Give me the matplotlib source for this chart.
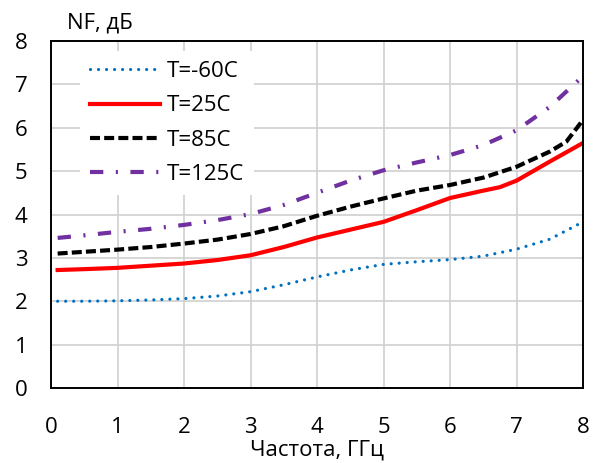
import matplotlib
matplotlib.use("Agg")
import matplotlib.pyplot as plt
import numpy as np

plt.rcParams['font.family'] = ['Open Sans', 'DejaVu Sans']

x_m60 = [0.1, 0.5, 1, 1.5, 2, 2.5, 3, 3.5, 4, 4.5, 5, 5.5, 6, 6.5, 7, 7.5, 8]
y_m60 = [2.0, 2.0, 2.01, 2.03, 2.06, 2.12, 2.22, 2.38, 2.56, 2.72, 2.85, 2.91, 2.96, 3.04, 3.2, 3.43, 3.83]

x_25 = [0.1, 0.5, 1, 1.5, 2, 2.5, 3, 3.5, 4, 4.5, 5, 5.5, 6, 6.5, 6.75, 7, 7.5, 8]
y_25 = [2.72, 2.74, 2.77, 2.82, 2.87, 2.95, 3.06, 3.25, 3.47, 3.65, 3.83, 4.1, 4.38, 4.55, 4.63, 4.78, 5.22, 5.65]

x_85 = [0.1, 0.5, 1, 1.5, 2, 2.5, 3, 3.5, 4, 4.5, 5, 5.5, 6, 6.5, 7, 7.5, 7.75, 8]
y_85 = [3.1, 3.14, 3.19, 3.25, 3.33, 3.42, 3.55, 3.73, 3.97, 4.18, 4.37, 4.55, 4.68, 4.85, 5.1, 5.45, 5.68, 6.18]

x_125 = [0.1, 0.5, 1, 1.5, 2, 2.5, 3, 3.5, 4, 4.5, 5, 5.5, 6, 6.5, 7, 7.5, 8]
y_125 = [3.46, 3.52, 3.6, 3.67, 3.76, 3.87, 4.01, 4.22, 4.5, 4.78, 5.02, 5.2, 5.37, 5.6, 5.94, 6.48, 7.19]

labels = ['T=-60C', 'T=25C', 'T=85C', 'T=125C']
xticks = [0, 1, 2, 3, 4, 5, 6, 7, 8]
yticks = [0, 1, 2, 3, 4, 5, 6, 7, 8]

FS = 16

fig = plt.figure(figsize=(5.96, 4.63), dpi=100)
ax = fig.add_axes([51/596, 1-388/463, 532/596, 347/463])

ax.plot(x_m60, y_m60, color='#0070C0', lw=2.3, linestyle=(0, (0.01, 2.5)),
        dash_capstyle='round', label=labels[0])
ax.plot(x_25, y_25, color='#FF0000', lw=3, linestyle='-', label=labels[1])
ax.plot(x_85, y_85, color='black', lw=3, linestyle=(0, (2.4, 1.0)), label=labels[2])
ax.plot(x_125, y_125, color='#7030A0', lw=3, linestyle=(0, (3.2, 3.0, 0.5, 3.0)), label=labels[3])

ax.set_xlim(0, 8)
ax.set_ylim(0, 8)
ax.set_xticks(xticks)
ax.set_yticks(yticks)
ax.grid(True, color='#D0D0D0', lw=1.2)
ax.set_axisbelow(True)
ax.tick_params(axis='x', length=0, labelsize=FS, pad=21)
ax.tick_params(axis='y', length=0, labelsize=FS, pad=17)
for s in ax.spines.values():
    s.set_color('black')
    s.set_linewidth(1.4)

ax.set_xlabel('Частота, ГГц', fontsize=FS, labelpad=1)
fig.text(67/596, 1-23/463, 'NF, дБ', fontsize=FS, va='center', ha='left')

leg = ax.legend(loc='upper left', bbox_to_anchor=((80-51)/532, 1-(51-41)/347), fontsize=FS,
                handlelength=3.15, frameon=True, fancybox=False, edgecolor='none',
                facecolor='white', framealpha=1, borderpad=0.45, labelspacing=0.6,
                handletextpad=0.3, borderaxespad=0)

fig.savefig('out.png', dpi=100)
